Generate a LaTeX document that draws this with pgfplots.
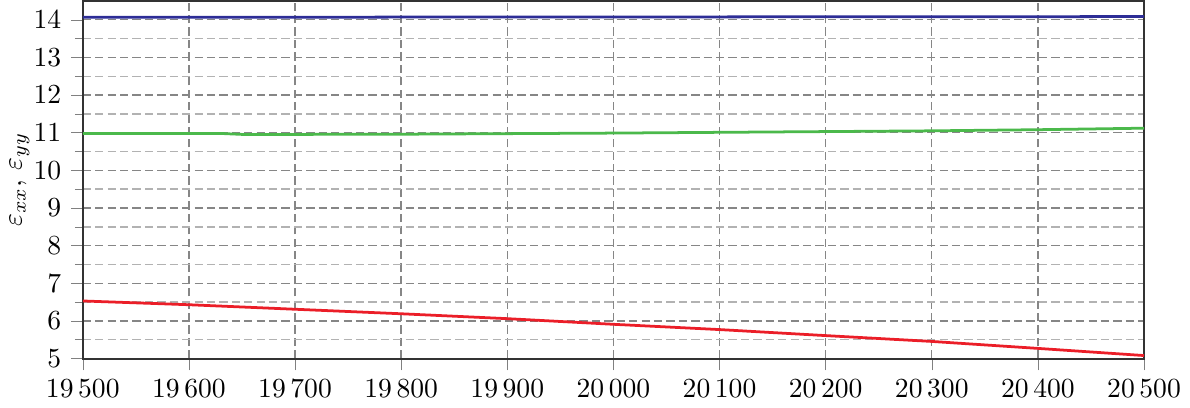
\documentclass[border=0pt]{standalone}
\usepackage{pgfplots}
\pgfplotsset{compat=1.18}
\definecolor{cblue}{RGB}{45,45,150}
\definecolor{cgreen}{RGB}{75,185,75}
\definecolor{cred}{RGB}{235,30,40}
\begin{document}
\begin{tikzpicture}
\begin{axis}[
  scale only axis,
  width=384.6pt, height=129.6pt,
  xmin=19500, xmax=20500, ymin=5, ymax=14.5,
  xtick={19500,19600,...,20500},
  ytick={5,6,...,14},
  minor y tick num=1,
  tick pos=left, tick align=outside,
  grid=both,
  major grid style={gray!95, dash pattern=on 3pt off 1.5pt, line width=0.5pt},
  minor grid style={gray!60, dash pattern=on 3pt off 1.5pt, line width=0.5pt},
  axis line style={black!80, line width=0.7pt},
  /pgf/number format/1000 sep={\,},
  ylabel={$\varepsilon_{xx}$, $\varepsilon_{yy}$},
  ylabel style={inner ysep=3.5pt},
  ylabel shift=-5.5pt,
  scaled x ticks=false,
]
\addplot[cblue, line width=1pt] coordinates {(19500,14.065) (20000,14.075) (20500,14.085)};
\addplot[cgreen, line width=1pt] coordinates {
(19500,10.98) (19630,10.98) (19650,10.955) (19700,10.955) (19800,10.96) (19900,10.975)
(20000,10.99) (20100,11.01) (20200,11.03) (20300,11.05) (20400,11.08) (20500,11.12)};
\addplot[cred, line width=1pt] coordinates {
(19500,6.53) (19600,6.43) (19700,6.31) (19800,6.19) (19900,6.06) (20000,5.91)
(20100,5.77) (20200,5.61) (20300,5.455) (20400,5.27) (20500,5.08)};
\end{axis}
\end{tikzpicture}
\end{document}
